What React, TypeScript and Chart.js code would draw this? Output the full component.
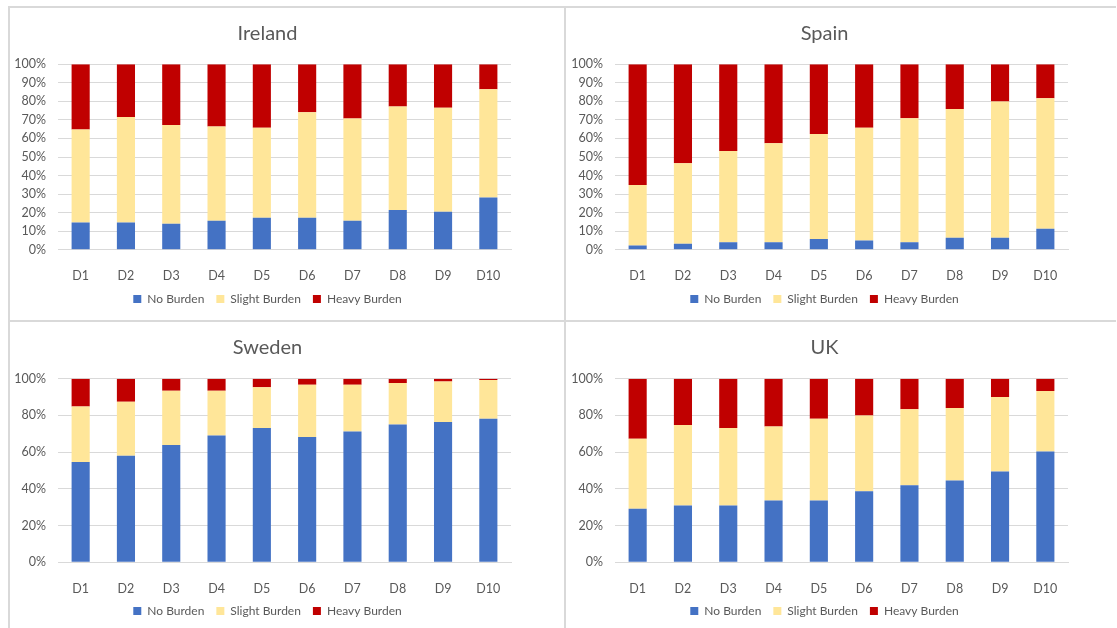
import React, { useEffect, useRef } from "react";
import { Chart, registerables } from "chart.js";

Chart.register(...registerables);

const CATEGORIES = ["D1", "D2", "D3", "D4", "D5", "D6", "D7", "D8", "D9", "D10"];
const SERIES_NAMES = ["No Burden", "Slight Burden", "Heavy Burden"];

const IRELAND_NO = [14.7, 14.7, 14.0, 15.6, 17.3, 17.3, 15.6, 21.4, 20.5, 28.1];
const IRELAND_SLIGHT = [50.2, 56.9, 53.3, 50.9, 48.5, 56.8, 55.1, 55.9, 56.1, 58.4];
const IRELAND_HEAVY = [35.1, 28.4, 32.7, 33.5, 34.2, 25.9, 29.3, 22.7, 23.4, 13.5];

const SPAIN_NO = [2.2, 3.2, 4.0, 4.0, 5.8, 4.9, 4.0, 6.5, 6.5, 11.3];
const SPAIN_SLIGHT = [32.7, 43.4, 49.2, 53.4, 56.6, 60.9, 66.9, 69.4, 73.4, 70.4];
const SPAIN_HEAVY = [65.1, 53.4, 46.8, 42.6, 37.6, 34.2, 29.1, 24.1, 20.1, 18.3];

const SWEDEN_NO = [54.6, 58.1, 63.9, 69.0, 73.1, 68.2, 71.3, 75.0, 76.4, 78.2];
const SWEDEN_SLIGHT = [30.3, 29.4, 29.6, 24.5, 22.2, 28.5, 25.4, 22.6, 22.1, 21.1];
const SWEDEN_HEAVY = [15.1, 12.5, 6.5, 6.5, 4.7, 3.3, 3.3, 2.4, 1.5, 0.7];

const UK_NO = [29.2, 31.0, 31.0, 33.6, 33.6, 38.7, 41.9, 44.5, 49.5, 60.4];
const UK_SLIGHT = [38.1, 43.8, 42.1, 40.4, 44.6, 41.2, 41.4, 39.5, 40.5, 32.9];
const UK_HEAVY = [32.7, 25.2, 26.9, 26.0, 21.8, 20.1, 16.7, 16.0, 10.0, 6.7];

const COLORS = ["#4472C4", "#FFE699", "#C00000"];
const TEXT = "#595959";
const GRID = "#D9D9D9";
const FONT = "Lato, 'Open Sans', sans-serif";

type PanelProps = {
  title: string;
  no: number[];
  slight: number[];
  heavy: number[];
  step: number;
  left: number;
  top: number;
  height: number;
  titleTop: number;
  titleBottom: number;
  xAxisHeight: number;
  xPad: number;
};

function Panel(p: PanelProps) {
  const ref = useRef<HTMLCanvasElement | null>(null);
  useEffect(() => {
    if (!ref.current) return;
    const chart = new Chart(ref.current, {
      type: "bar",
      data: {
        labels: CATEGORIES,
        datasets: [
          { label: SERIES_NAMES[0], data: p.no, backgroundColor: COLORS[0] },
          { label: SERIES_NAMES[1], data: p.slight, backgroundColor: COLORS[1] },
          { label: SERIES_NAMES[2], data: p.heavy, backgroundColor: COLORS[2] },
        ],
      },
      options: {
        animation: false,
        responsive: false,
        maintainAspectRatio: false,
        layout: { padding: 0 },
        datasets: { bar: { barPercentage: 0.4, categoryPercentage: 1 } },
        plugins: {
          title: {
            display: true,
            text: p.title,
            color: TEXT,
            font: { family: FONT, size: 20, weight: "normal" },
            padding: { top: p.titleTop, bottom: p.titleBottom },
          },
          legend: {
            position: "bottom",
            labels: {
              boxWidth: 8,
              boxHeight: 8,
              padding: 12,
              color: TEXT,
              font: { family: FONT, size: 12 },
            },
          },
          tooltip: { enabled: false },
        },
        scales: {
          x: {
            stacked: true,
            grid: { display: false },
            border: { color: GRID },
            ticks: { color: TEXT, font: { family: FONT, size: 12.5 }, padding: p.xPad },
            afterFit: (s: any) => {
              s.height = p.xAxisHeight;
            },
          },
          y: {
            stacked: true,
            min: 0,
            max: 100,
            ticks: {
              stepSize: p.step,
              color: TEXT,
              font: { family: FONT, size: 12.5 },
              padding: 12,
              callback: (v: any) => v + "%",
            },
            grid: { color: GRID, drawTicks: false },
            border: { display: false },
            afterFit: (s: any) => {
              s.width = 48;
            },
          },
          yRight: {
            position: "right",
            display: true,
            grid: { display: false },
            border: { display: false },
            ticks: { display: false },
            afterFit: (s: any) => {
              s.width = 14;
            },
          },
        },
      } as any,
    });
    return () => chart.destroy();
  }, []);
  return (
    <canvas
      ref={ref}
      width={515}
      height={p.height}
      style={{ position: "absolute", left: p.left, top: p.top, width: 515, height: p.height }}
    />
  );
}

const line = (left: number, top: number, width: number, height: number) => (
  <div style={{ position: "absolute", left, top, width, height, background: GRID }} />
);

export default function App() {
  const topCfg = { top: 8, height: 307, titleTop: 13.2, titleBottom: 19.1, xAxisHeight: 31.3, xPad: 11.2 };
  const botCfg = { top: 322, height: 305, titleTop: 13.4, titleBottom: 19.3, xAxisHeight: 30.7, xPad: 11.6 };
  return (
    <div style={{ position: "absolute", left: 0, top: 0, width: 1117, height: 628, overflow: "hidden", background: "#fff" }}>
      {line(8, 6, 1108, 2)}
      {line(8, 320, 1108, 2)}
      {line(8, 6, 2, 622)}
      {line(564, 6, 2, 622)}
      <Panel title="Ireland" no={IRELAND_NO} slight={IRELAND_SLIGHT} heavy={IRELAND_HEAVY} step={10} left={10} {...topCfg} />
      <Panel title="Spain" no={SPAIN_NO} slight={SPAIN_SLIGHT} heavy={SPAIN_HEAVY} step={10} left={567} {...topCfg} />
      <Panel title="Sweden" no={SWEDEN_NO} slight={SWEDEN_SLIGHT} heavy={SWEDEN_HEAVY} step={20} left={10} {...botCfg} />
      <Panel title="UK" no={UK_NO} slight={UK_SLIGHT} heavy={UK_HEAVY} step={20} left={567} {...botCfg} />
    </div>
  );
}
